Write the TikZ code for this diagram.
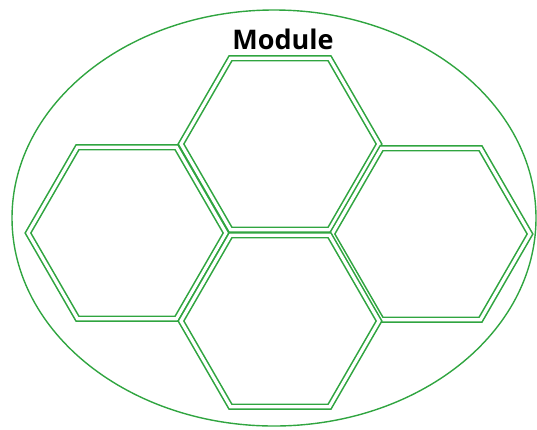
\documentclass[tikz,border=0pt]{standalone}
\usepackage{fontspec}
\newfontfamily\titlefont{Open Sans}
\usetikzlibrary{shapes.geometric}
\definecolor{cellgreen}{RGB}{48,165,64}

\begin{document}
\begin{tikzpicture}[
        x=1pt, y=-1pt,
        cell/.style={regular polygon, regular polygon sides=6,
          minimum size=198pt, inner sep=0pt, draw=cellgreen, line width=1.6pt,
          double=white, double distance=3.2pt},
        shell/.style={draw=cellgreen, line width=1.4pt},
        title/.style={font=\titlefont\bfseries\fontsize{27}{30}\selectfont, text=black},
      ]
      \useasboundingbox (0,0) rectangle (537,429);

      \draw[shell] (274,218) ellipse [x radius=262, y radius=208];

      \node[cell] (cellN) at (280,144) {};
      \node[cell] (cellW) at (127,233) {};
      \node[cell] (cellE) at (431,234) {};
      \node[cell] (cellS) at (280,321) {};

      \node[title] (module) at (283,39) {Module};

    \end{tikzpicture}
\end{document}
